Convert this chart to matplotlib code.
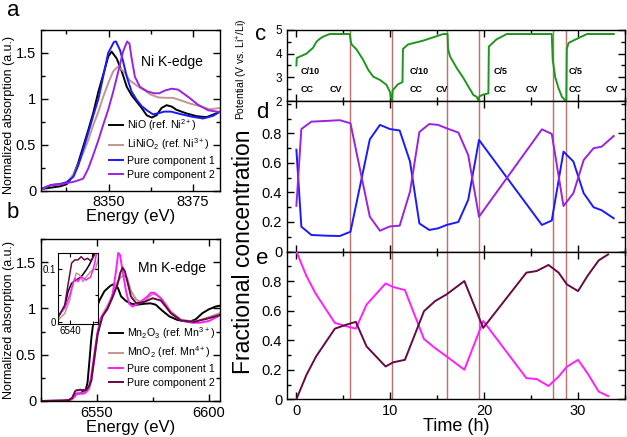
import matplotlib
matplotlib.use("Agg")
import matplotlib.pyplot as plt
from matplotlib.ticker import MultipleLocator, FixedLocator, FuncFormatter

plt.rcParams['font.family'] = ['Liberation Sans', 'DejaVu Sans']
plt.rcParams['mathtext.fontset'] = 'custom'
plt.rcParams['mathtext.rm'] = 'Liberation Sans'
plt.rcParams['mathtext.it'] = 'Liberation Sans:italic'
plt.rcParams['mathtext.bf'] = 'Liberation Sans:bold'

# ---------------- Panel a: Ni K-edge ----------------
ni_nio_e = [8330, 8332.7, 8335.6, 8337.6, 8339.6, 8341, 8342.5, 8344, 8345.5, 8347, 8348.4, 8349.9,
            8350.9, 8352.4, 8353.9, 8355.4, 8356.8, 8358.3, 8359.8, 8361.3, 8362.8, 8364.2, 8365.7,
            8367.2, 8368.7, 8370.1, 8373.1, 8376.1, 8379, 8381.5, 8383]
ni_nio_v = [0.016, 0.03, 0.045, 0.068, 0.17, 0.30, 0.48, 0.66, 0.85, 1.08, 1.26, 1.46,
            1.515, 1.44, 1.30, 1.13, 1.04, 0.97, 0.90, 0.82, 0.795, 0.82, 0.90,
            0.93, 0.915, 0.88, 0.84, 0.81, 0.80, 0.835, 0.86]

ni_linio2_e = [8330, 8333, 8335.6, 8337.6, 8339.6, 8341, 8342.5, 8344, 8345.5, 8347, 8348.4, 8349.9,
               8351.4, 8352.6, 8353.6, 8354.9, 8356.3, 8357.8, 8359.3, 8360.8, 8362.2, 8364.7, 8367.2,
               8369.1, 8371.6, 8374, 8377.5, 8380, 8383]
ni_linio2_v = [0.016, 0.06, 0.07, 0.09, 0.17, 0.28, 0.41, 0.55, 0.715, 0.86, 1.02, 1.17,
               1.30, 1.345, 1.33, 1.28, 1.20, 1.16, 1.12, 1.09, 1.05, 1.015, 1.01,
               1.01, 0.98, 0.95, 0.915, 0.885, 0.90]

ni_comp1_e = [8330, 8333, 8335.6, 8337.6, 8339.6, 8341, 8342.5, 8344, 8345.5, 8347, 8348.4, 8349.9,
              8351.6, 8352.2, 8353.4, 8354.3, 8355.4, 8356.8, 8358.3, 8359.8, 8361.5, 8363.2, 8365,
              8366.5, 8368.5, 8371.1, 8374.6, 8378, 8381, 8383]
ni_comp1_v = [0.016, 0.06, 0.07, 0.09, 0.15, 0.27, 0.45, 0.63, 0.82, 1.0, 1.24, 1.50,
              1.62, 1.625, 1.53, 1.41, 1.24, 1.08, 0.99, 0.92, 0.87, 0.83, 0.845,
              0.86, 0.86, 0.835, 0.805, 0.785, 0.815, 0.86]

ni_comp2_e = [8330, 8333, 8335.6, 8337.6, 8339.6, 8341, 8342.5, 8344, 8345.5, 8347, 8348.4, 8349.9,
              8351.4, 8352.9, 8354.3, 8355.5, 8356.2, 8356.8, 8357.8, 8359.3, 8361.5, 8363.5, 8365,
              8366.7, 8368.7, 8370.6, 8373.6, 8376.5, 8379.5, 8383]
ni_comp2_v = [0.016, 0.06, 0.065, 0.08, 0.095, 0.11, 0.13, 0.24, 0.39, 0.55, 0.715, 0.88,
              1.08, 1.30, 1.515, 1.625, 1.60, 1.45, 1.24, 1.13, 1.08, 1.06, 1.06,
              1.09, 1.11, 1.10, 1.02, 0.935, 0.875, 0.855]

# ---------------- Panel b: Mn K-edge ----------------
mn_mn2o3_e = [6525, 6535, 6537.5, 6538.9, 6539.6, 6540.4, 6541.4, 6542.5, 6543.6, 6544.3, 6545, 6545.8,
              6546.6, 6547.5, 6548.8, 6551, 6553.3, 6556, 6557.8, 6559.4, 6560.8, 6563, 6565.5, 6568,
              6571, 6574, 6576.3, 6579, 6582.3, 6586, 6591.2, 6594, 6597.2, 6600, 6603, 6605]
mn_mn2o3_v = [0.0, 0.004, 0.01, 0.029, 0.057, 0.073, 0.079, 0.085, 0.098, 0.108, 0.12, 0.2,
              0.42, 0.68, 0.93, 1.08, 1.185, 1.245, 1.265, 1.22, 1.13, 1.08, 1.05, 1.04,
              1.05, 1.055, 1.04, 0.98, 0.915, 0.875, 0.855, 0.88, 0.95, 0.99, 1.02, 1.03]

mn_mno2_e = [6525, 6535, 6537.5, 6538.9, 6540, 6540.7, 6541.4, 6542.1, 6542.9, 6543.6, 6544.6, 6545.7,
             6546.6, 6547.3, 6548.8, 6550.3, 6551.8, 6554, 6556.2, 6558.5, 6560.7, 6562.4, 6563.5,
             6565.2, 6567.4, 6569.5, 6571.1, 6573, 6574.9, 6576.5, 6578.6, 6581, 6583, 6587.5,
             6593.4, 6599.4, 6605]
mn_mno2_v = [0.0, 0.002, 0.004, 0.016, 0.042, 0.07, 0.092, 0.089, 0.076, 0.085, 0.095, 0.101,
             0.13, 0.21, 0.43, 0.72, 0.90, 1.0, 1.10, 1.26, 1.34, 1.355, 1.33,
             1.19, 1.10, 1.07, 1.07, 1.12, 1.155, 1.15, 1.11, 1.04, 0.97, 0.88,
             0.855, 0.90, 0.95]

mn_comp1_e = [6525, 6535, 6537.5, 6538.9, 6540, 6540.7, 6541.1, 6541.8, 6542.5, 6543.6, 6544.6, 6545.4,
              6545.8, 6546.5, 6547.3, 6548.8, 6550.3, 6551.8, 6554.8, 6557, 6558.5, 6559.5, 6560.3,
              6561.5, 6563, 6564.4, 6565.9, 6568.9, 6572.6, 6574.1, 6575.6, 6578.6, 6583, 6587.5,
              6592.7, 6596, 6600.1, 6605]
mn_comp1_v = [0.0, 0.004, 0.013, 0.026, 0.051, 0.073, 0.082, 0.076, 0.085, 0.079, 0.085, 0.108,
              0.126, 0.16, 0.245, 0.50, 0.75, 0.90, 1.0, 1.15, 1.40, 1.60, 1.58,
              1.40, 1.185, 1.05, 1.02, 1.06, 1.13, 1.17, 1.17, 1.11, 0.95, 0.87,
              0.845, 0.845, 0.865, 0.925]

mn_comp2_e = [6525, 6535, 6537.5, 6538.9, 6539.6, 6540.4, 6541.1, 6541.8, 6542.5, 6543.2, 6543.9, 6544.6,
              6545.4, 6545.7, 6546.5, 6547.5, 6548.8, 6550.3, 6552.5, 6554.8, 6557, 6559.2, 6560.5,
              6561.5, 6562.5, 6563.7, 6565.2, 6567.4, 6569.5, 6571.1, 6574.9, 6578.6, 6583, 6587.5,
              6593.4, 6599.4, 6605]
mn_comp2_v = [0.0, 0.004, 0.010, 0.032, 0.07, 0.111, 0.117, 0.117, 0.123, 0.117, 0.12, 0.115,
              0.126, 0.136, 0.16, 0.22, 0.46, 0.72, 0.915, 1.0, 1.12, 1.26, 1.39,
              1.44, 1.40, 1.28, 1.13, 1.06, 1.06, 1.07, 1.11, 1.085, 0.95, 0.87,
              0.855, 0.89, 0.93]

# ---------------- Panel c: potential ----------------
pot_t = [0, 0.04, 0.5, 1.07, 1.78, 2.13, 2.5, 2.85, 3.56, 5.69,
         5.8, 5.9, 6.4, 7.1, 7.65, 8.18, 8.9, 9.6, 9.96, 10.14, 10.2,
         10.25, 10.8, 11.3, 11.35, 11.9, 13.5, 15.65, 16.1,
         16.15, 16.36, 17.08, 17.79, 18.32, 18.86, 19.2, 19.39,
         19.5, 19.9, 20.45, 20.5, 21.3, 22.4, 27.2,
         27.3, 27.57, 27.93, 28.28, 28.63, 28.75,
         28.8, 29.0, 30.95, 33.8]
pot_v = [3.5, 3.82, 3.9, 4.0, 4.25, 4.5, 4.63, 4.72, 4.83, 4.83,
         4.5, 4.38, 4.18, 3.75, 3.32, 3.03, 2.89, 2.68, 2.39, 2.04, 2.0,
         2.45, 2.7, 2.8, 4.2, 4.39, 4.55, 4.83, 4.83,
         4.2, 3.89, 3.39, 2.97, 2.61, 2.25, 2.18, 2.02,
         2.2, 2.27, 2.32, 4.3, 4.6, 4.83, 4.83,
         3.75, 3.0, 2.53, 2.18, 2.02, 2.0,
         4.2, 4.46, 4.83, 4.83]

cycle_marks = [5.69, 10.2, 16.04, 19.4, 27.3, 28.7]
rate_labels = ['C/10', 'C/10', 'C/5', 'C/5']
rate_t = [0.45, 12.1, 21.05, 29.0]
cv_t = [3.55, 14.8, 24.4, 32.9]

# ---------------- Panel d: Ni fractions ----------------
ni_t = [0, 0.53, 1.6, 3.2, 4.62, 5.76, 7.82, 8.9, 9.96, 11.0, 12.1, 13.1, 14.15,
        15.1, 16.0, 17.25, 18.3, 19.45, 26.15, 27.2, 28.45, 29.5, 30.6, 31.65, 32.5, 33.8]
ni_frac1 = [0.69, 0.168, 0.112, 0.107, 0.105, 0.134, 0.76, 0.858, 0.83, 0.82, 0.61, 0.19, 0.146,
            0.157, 0.18, 0.2, 0.35, 0.756, 0.18, 0.21, 0.677, 0.61, 0.395, 0.30, 0.28, 0.225]
ni_frac2 = [0.31, 0.83, 0.88, 0.885, 0.89, 0.869, 0.236, 0.141, 0.17, 0.175, 0.405, 0.81, 0.864,
            0.858, 0.835, 0.806, 0.654, 0.236, 0.828, 0.797, 0.308, 0.395, 0.62, 0.70, 0.71, 0.783]

# ---------------- Panel e: Mn fractions ----------------
mn_t = [0, 1.07, 2.1, 4.1, 5.33, 6.33, 7.47, 9.5, 10.3, 11.56, 13.59, 14.76, 16.0, 17.89,
        19.9, 24.5, 25.6, 26.85, 27.93, 28.8, 30.0, 31.0, 32.2, 33.2]
mn_frac1 = [1.0, 0.834, 0.71, 0.517, 0.494, 0.478, 0.64, 0.784, 0.76, 0.739, 0.408, 0.347, 0.29, 0.2,
            0.53, 0.143, 0.137, 0.09, 0.154, 0.22, 0.267, 0.177, 0.052, 0.022]
mn_frac2 = [0.0, 0.165, 0.29, 0.478, 0.505, 0.524, 0.358, 0.222, 0.25, 0.267, 0.596, 0.664, 0.71, 0.8,
            0.483, 0.857, 0.868, 0.909, 0.857, 0.778, 0.732, 0.834, 0.94, 0.98]

# ---------------- styling ----------------
C_BLACK = '#000000'
C_BROWN = '#c39593'
C_BLUE = '#1a1aff'
C_PURPLE = '#9a22e0'
C_MAGENTA = '#ff1eff'
C_MAROON = '#650a45'
C_GREEN = '#1e961e'
LW = 1.4

W, H = 627, 437
fig = plt.figure(figsize=(W / 100, H / 100), dpi=100)


def box(left, top, right, bottom):
    return [left / W, 1 - bottom / H, (right - left) / W, (bottom - top) / H]


def style(ax, size):
    ax.tick_params(which='both', direction='in', top=True, right=True, labelsize=size, width=1)
    ax.tick_params(which='major', length=5)
    ax.tick_params(which='minor', length=3)
    for s in ax.spines.values():
        s.set_linewidth(1)


gfmt = FuncFormatter(lambda v, p: '%g' % round(v, 3))

# Panel a
ax_a = fig.add_axes(box(41, 30, 220, 190.5))
ax_a.plot(ni_nio_e, ni_nio_v, color=C_BLACK, lw=LW, label='NiO (ref. Ni$^{2+}$)')
ax_a.plot(ni_linio2_e, ni_linio2_v, color=C_BROWN, lw=LW, label='LiNiO$_2$ (ref. Ni$^{3+}$)')
ax_a.plot(ni_comp1_e, ni_comp1_v, color=C_BLUE, lw=LW, label='Pure component 1')
ax_a.plot(ni_comp2_e, ni_comp2_v, color=C_PURPLE, lw=LW, label='Pure component 2')
ax_a.set_xlim(8330, 8383)
ax_a.set_ylim(0, 1.75)
ax_a.xaxis.set_major_locator(FixedLocator([8350, 8375]))
ax_a.xaxis.set_minor_locator(MultipleLocator(12.5))
ax_a.yaxis.set_major_locator(MultipleLocator(0.5))
ax_a.yaxis.set_minor_locator(MultipleLocator(0.25))
ax_a.yaxis.set_major_formatter(gfmt)
style(ax_a, 10.5)
ax_a.set_xlabel('Energy (eV)', fontsize=12, labelpad=0)
ax_a.set_ylabel('Normalized absorption (a.u.)', fontsize=9)
ax_a.yaxis.set_label_coords((15 - 41) / 179, 0.47)
ax_a.text(0.73, 0.8, 'Ni K-edge', transform=ax_a.transAxes, fontsize=10, ha='center', va='center')
ax_a.legend(loc='upper left', bbox_to_anchor=((109 - 41) / 179, (190.5 - 117) / 160.5),
            frameon=False, fontsize=7.7, handlelength=1.3, handletextpad=0.4,
            labelspacing=0.35, borderpad=0, borderaxespad=0)

# Panel b
ax_b = fig.add_axes(box(41, 239, 220, 401))
ax_b.plot(mn_mn2o3_e, mn_mn2o3_v, color=C_BLACK, lw=LW, label='Mn$_2$O$_3$ (ref. Mn$^{3+}$)')
ax_b.plot(mn_mno2_e, mn_mno2_v, color=C_BROWN, lw=LW, label='MnO$_2$ (ref. Mn$^{4+}$)')
ax_b.plot(mn_comp1_e, mn_comp1_v, color=C_MAGENTA, lw=LW, label='Pure component 1')
ax_b.plot(mn_comp2_e, mn_comp2_v, color=C_MAROON, lw=LW, label='Pure component 2')
ax_b.set_xlim(6525, 6605)
ax_b.set_ylim(0, 1.75)
ax_b.xaxis.set_major_locator(MultipleLocator(50))
ax_b.xaxis.set_minor_locator(MultipleLocator(25))
ax_b.yaxis.set_major_locator(MultipleLocator(0.5))
ax_b.yaxis.set_minor_locator(MultipleLocator(0.25))
ax_b.yaxis.set_major_formatter(gfmt)
style(ax_b, 10.5)
ax_b.set_xlabel('Energy (eV)', fontsize=12, labelpad=0)
ax_b.set_ylabel('Normalized absorption (a.u.)', fontsize=9)
ax_b.yaxis.set_label_coords((15 - 41) / 179, 0.5)
ax_b.text(0.73, 0.82, 'Mn K-edge', transform=ax_b.transAxes, fontsize=10, ha='center', va='center')
ax_b.legend(loc='upper left', bbox_to_anchor=((109 - 41) / 179, (401 - 325) / 162),
            frameon=False, fontsize=7.7, handlelength=1.3, handletextpad=0.4,
            labelspacing=0.35, borderpad=0, borderaxespad=0)

# Inset in b
ax_in = fig.add_axes(box(58, 253, 98, 324))
ax_in.plot(mn_mn2o3_e, mn_mn2o3_v, color=C_BLACK, lw=1.1)
ax_in.plot(mn_mno2_e, mn_mno2_v, color=C_BROWN, lw=1.1)
ax_in.plot(mn_comp1_e, mn_comp1_v, color=C_MAGENTA, lw=1.1)
ax_in.plot(mn_comp2_e, mn_comp2_v, color=C_MAROON, lw=1.1)
ax_in.set_xlim(6537.4, 6546.2)
ax_in.set_ylim(-0.004, 0.13)
ax_in.xaxis.set_major_locator(FixedLocator([6540]))
ax_in.xaxis.set_minor_locator(FixedLocator([6545]))
ax_in.yaxis.set_major_locator(MultipleLocator(0.1))
ax_in.yaxis.set_minor_locator(MultipleLocator(0.05))
ax_in.yaxis.set_major_formatter(gfmt)
ax_in.tick_params(which='both', direction='in', top=True, right=True, labelsize=7, pad=1.5, width=0.8)
ax_in.tick_params(which='major', length=3)
ax_in.tick_params(which='minor', length=2)
for s in ax_in.spines.values():
    s.set_linewidth(0.8)

# Panels c, d, e
ax_c = fig.add_axes(box(287, 30, 625, 101))
ax_d = fig.add_axes(box(287, 101, 625, 251.5))
ax_e = fig.add_axes(box(287, 251.5, 625, 399.3))

for ax in (ax_c, ax_d, ax_e):
    for tm in cycle_marks:
        ax.axvline(tm, color='#f3d6d6', lw=1.8, zorder=0.5)
        ax.axvline(tm, color='#b25c5c', lw=0.6, zorder=0.6)
    ax.set_xlim(-1, 35)
    ax.xaxis.set_major_locator(MultipleLocator(10))
    ax.xaxis.set_minor_locator(MultipleLocator(5))

ax_c.plot(pot_t, pot_v, color=C_GREEN, lw=LW, zorder=3)
ax_c.set_ylim(2, 5)
ax_c.yaxis.set_major_locator(MultipleLocator(1))
ax_c.yaxis.set_minor_locator(MultipleLocator(0.5))
style(ax_c, 8.5)
ax_c.tick_params(labelbottom=False)
ax_c.set_ylabel('Potential (V vs. Li$^{+}$/Li)', fontsize=7.5)
ax_c.yaxis.set_label_coords((250 - 287) / 338, 0.45)
for lab, t0, t1 in zip(rate_labels, rate_t, cv_t):
    ax_c.text(t0, 3.25, lab, fontsize=6.5, fontweight='bold', ha='left', va='center')
    ax_c.text(t0, 2.5, 'CC', fontsize=6.5, fontweight='bold', ha='left', va='center')
    ax_c.text(t1, 2.5, 'CV', fontsize=6.5, fontweight='bold', ha='left', va='center')

ax_d.plot(ni_t, ni_frac1, color=C_BLUE, lw=LW, zorder=3)
ax_d.plot(ni_t, ni_frac2, color=C_PURPLE, lw=LW, zorder=3)
ax_d.set_ylim(0, 1.02)
ax_d.yaxis.set_major_locator(FixedLocator([0, 0.2, 0.4, 0.6, 0.8]))
ax_d.yaxis.set_minor_locator(FixedLocator([0.1, 0.3, 0.5, 0.7, 0.9, 1.0]))
ax_d.yaxis.set_major_formatter(gfmt)
style(ax_d, 10.5)
ax_d.tick_params(labelbottom=False)

ax_e.plot(mn_t, mn_frac1, color=C_MAGENTA, lw=LW, zorder=3)
ax_e.plot(mn_t, mn_frac2, color=C_MAROON, lw=LW, zorder=3)
ax_e.set_ylim(0, 1.0)
ax_e.yaxis.set_major_locator(FixedLocator([0, 0.2, 0.4, 0.6, 0.8]))
ax_e.yaxis.set_minor_locator(FixedLocator([0.1, 0.3, 0.5, 0.7, 0.9, 1.0]))
ax_e.yaxis.set_major_formatter(gfmt)
style(ax_e, 10.5)
ax_e.set_xlabel('Time (h)', fontsize=13, labelpad=0)

fig.text(243 / W, 1 - 252 / H, 'Fractional concentration', rotation=90, fontsize=16.5,
         ha='center', va='center')

# panel letters
for letter, x, y in [('a', 13, 11), ('b', 13, 212), ('c', 261, 35), ('d', 262, 113), ('e', 262, 259)]:
    fig.text(x / W, 1 - y / H, letter, fontsize=16, ha='center', va='center')

fig.savefig('out.png', dpi=100)
